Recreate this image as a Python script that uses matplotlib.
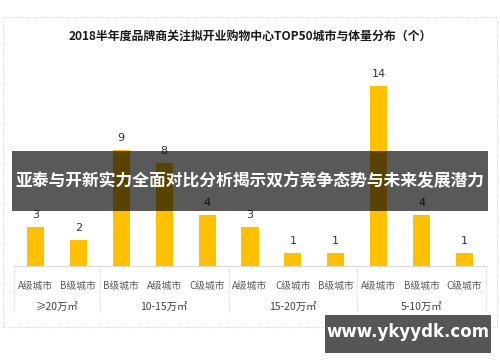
import numpy as np
import matplotlib.pyplot as plt
from matplotlib.patches import Rectangle
import matplotlib.transforms as mtransforms

plt.rcParams['font.family'] = ['Noto Sans CJK SC', 'DejaVu Sans']

# data
title = '2018半年度品牌商关注拟开业购物中心TOP50城市与体量分布（个）'
cities = ['A级城市', 'B级城市',
          'B级城市', 'A级城市', 'C级城市',
          'A级城市', 'C级城市', 'B级城市',
          'A级城市', 'B级城市', 'C级城市']
values = [3, 2, 9, 8, 4, 3, 1, 1, 14, 4, 1]
groups = ['≥20万㎡', '10-15万㎡', '15-20万㎡', '5-10万㎡']
group_sizes = [2, 3, 3, 3]
banner = '亚泰与开新实力全面对比分析揭示双方竞争态势与未来发展潜力'
site = 'www.ykyydk.com'

W, H = 500, 362
fig = plt.figure(figsize=(W / 100, H / 100), dpi=100)

# outer dotted frame
fig.patches.append(Rectangle((3 / W, 1 - 327 / H), 494 / W, 310 / H, transform=fig.transFigure,
                             fill=False, edgecolor='#d9d9d9', linestyle=(0, (1, 1)), linewidth=0.8))
fig.text(0.5, 1 - 36 / H, title, ha='center', va='center', fontsize=8.6, fontweight='bold', color='#1a1a1a')

ax = fig.add_axes([14 / W, (H - 266) / H, 472 / W, 206 / H])
x = np.arange(len(values))
ax.bar(x, values, width=0.4, color='#FFC000')
ax.set_xlim(-0.5, len(values) - 0.5)
ax.set_ylim(0, 16)
for xi, v in zip(x, values):
    ax.annotate(str(v), (xi, v), xytext=(0, 5), textcoords='offset points',
                ha='center', va='bottom', fontsize=8, color='#333333', family='DejaVu Sans')

for s in ['top', 'right', 'left']:
    ax.spines[s].set_visible(False)
ax.spines['bottom'].set_color('#d9d9d9')
ax.spines['bottom'].set_linewidth(0.8)
ax.set_yticks([])
ax.set_xticks(x)
ax.set_xticklabels(cities, fontsize=7, color='#595959')
ax.tick_params(axis='x', length=0, pad=11)

# group separators and labels
trans = mtransforms.blended_transform_factory(ax.transData, ax.transAxes)
edges = np.concatenate([[0], np.cumsum(group_sizes)]) - 0.5
for e in edges:
    ax.plot([e, e], [0, -0.23], transform=trans, color='#d9d9d9', linewidth=0.8,
            linestyle=(0, (1, 1)), clip_on=False)
for i, g in enumerate(groups):
    ax.text((edges[i] + edges[i + 1]) / 2, -0.2, g, transform=trans, ha='center', va='center',
            fontsize=7.5, color='#404040')

# banner overlay
fig.patches.append(Rectangle((12 / W, 1 - 211 / H), 476 / W, 60 / H, transform=fig.transFigure,
                             facecolor='black', alpha=0.65, edgecolor='none', zorder=5))
fig.text(0.5, 1 - 181 / H, banner, ha='center', va='center', fontsize=12.1, fontweight='bold',
         color='white', zorder=6)

# site watermark
fig.patches.append(Rectangle((325 / W, 1 - 353 / H), 166 / W, 38 / H, transform=fig.transFigure,
                             facecolor='#4d4d4d', alpha=0.95, edgecolor='none', zorder=5))
fig.text(408 / W, 1 - 332 / H, site, ha='center', va='center', fontsize=12, fontweight='bold',
         color='white', family='DejaVu Sans', zorder=6)

fig.savefig('out.png', dpi=100)
